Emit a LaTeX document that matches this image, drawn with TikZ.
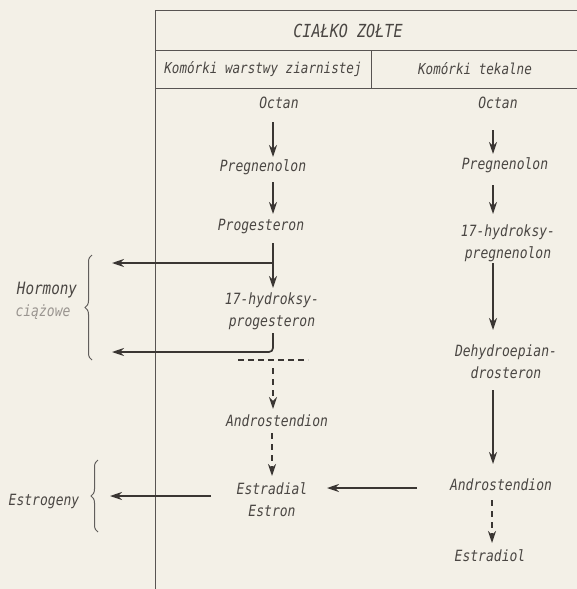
\documentclass[tikz,border=0pt]{standalone}
\usepackage{fontspec}
\setmainfont{DejaVu Sans Mono}[FakeStretch=0.84]
\usetikzlibrary{arrows.meta,decorations.pathreplacing}
\definecolor{paper}{HTML}{F3F0E7}
\definecolor{ink}{HTML}{3A3633}
\definecolor{txt}{HTML}{4A4643}
\definecolor{faint}{HTML}{9A9590}
\tikzset{
  lbl/.style={text=txt,font=\fontsize{15.5}{22}\selectfont\itshape,align=center,inner sep=0pt},
  hdr/.style={text=txt,font=\fontsize{15}{18}\selectfont\itshape,inner sep=0pt},
  rule/.style={draw=ink!85,line width=0.9pt},
  arr/.style={draw=ink,line width=1.7pt,-{Stealth[length=12pt,width=8pt]}},
  darr/.style={arr,dash pattern=on 6pt off 5pt},
  brc/.style={draw=ink!80,line width=1pt,decorate,decoration={brace,amplitude=7pt}}
}
\begin{document}
\begin{tikzpicture}[x=1pt,y=-1pt]
\fill[paper] (0,0) rectangle (577,589);
\useasboundingbox (0,0) rectangle (577,589);
% table
\coordinate (tl) at (155,10);
\coordinate (tr) at (577,10);
\coordinate (bl) at (155,589);
\coordinate (h1l) at (155,50);
\coordinate (h1r) at (577,50);
\coordinate (h2l) at (155,88);
\coordinate (h2r) at (577,88);
\coordinate (dv1) at (371,50);
\coordinate (dv2) at (371,88);
\draw[rule] (tl) -- (tr);
\draw[rule] (tl) -- (bl);
\draw[rule] (h1l) -- (h1r);
\draw[rule] (h2l) -- (h2r);
\draw[rule] (dv1) -- (dv2);
\node[hdr,font=\fontsize{18}{18}\selectfont\itshape] (title) at (348,31) {CIAŁKO ZOŁTE};
\node[hdr] (kz) at (263,69) {Komórki warstwy ziarnistej};
\node[hdr] (kt) at (475,69) {Komórki tekalne};
% left column
\node[lbl] (oct1) at (279,103) {Octan};
\node[lbl] (preg1) at (263,167) {Pregnenolon};
\node[lbl] (prog1) at (261,227) {Progesteron};
\node[lbl] (hp1) at (272,311) {17-hydroksy-\\progesteron};
\node[lbl] (andr1) at (277,421) {Androstendion};
\node[lbl] (estr1) at (272,500) {Estradial\\Estron};
% right column
\node[lbl] (oct2) at (498,103) {Octan};
\node[lbl] (preg2) at (505,165) {Pregnenolon};
\node[lbl] (hp2) at (508,243) {17-hydroksy-\\pregnenolon};
\node[lbl] (dhea) at (506,362) {Dehydroepian-\\drosteron};
\node[lbl] (andr2) at (501,485) {Androstendion};
\node[lbl] (estd) at (490,556) {Estradiol};
% side labels
\node[lbl,font=\fontsize{17}{22}\selectfont\itshape] (horm) at (47,290) {Hormony};
\node[lbl,text=faint] (ciaz) at (43,312) {ciążowe};
\node[lbl] (estg) at (44,502) {Estrogeny};
% braces
\coordinate (b1a) at (92,360);
\coordinate (b1b) at (92,255);
\coordinate (b2a) at (98,532);
\coordinate (b2b) at (98,460);
\draw[brc] (b1a) -- (b1b);
\draw[brc] (b2a) -- (b2b);
% left column arrows
\coordinate (a1s) at (273,122);
\coordinate (a1e) at (273,157);
\coordinate (a2s) at (273,182);
\coordinate (a2e) at (273,214);
\coordinate (a3s) at (273,243);
\coordinate (a3e) at (273,288);
\coordinate (hz1) at (273,263);
\coordinate (hz1e) at (112,263);
\coordinate (hk1) at (273,333);
\coordinate (hk2) at (273,352);
\coordinate (hk2e) at (112,352);
\coordinate (ds1) at (238,360);
\coordinate (ds2) at (308,360);
\coordinate (a4s) at (273,368);
\coordinate (a4e) at (273,409);
\coordinate (a5s) at (272,433);
\coordinate (a5e) at (272,476);
\coordinate (e1s) at (211,496);
\coordinate (e1e) at (110,496);
\draw[arr] (a1s) -- (a1e);
\draw[arr] (a2s) -- (a2e);
\draw[arr] (a3s) -- (a3e);
\draw[arr] (hz1) -- (hz1e);
\draw[arr,rounded corners=4pt] (hk1) -- (hk2) -- (hk2e);
\draw[draw=ink,line width=1.1pt,dash pattern=on 6pt off 4pt] (ds1) -- (ds2);
\draw[darr] (a4s) -- (a4e);
\draw[darr] (a5s) -- (a5e);
\draw[arr] (e1s) -- (e1e);
% right column arrows
\coordinate (r1s) at (493,130);
\coordinate (r1e) at (493,154);
\coordinate (r2s) at (493,185);
\coordinate (r2e) at (493,214);
\coordinate (r3s) at (493,263);
\coordinate (r3e) at (493,330);
\coordinate (r4s) at (493,390);
\coordinate (r4e) at (493,464);
\coordinate (r5s) at (492,500);
\coordinate (r5e) at (492,543);
\coordinate (hs) at (417,488);
\coordinate (he) at (327,488);
\draw[arr] (r1s) -- (r1e);
\draw[arr] (r2s) -- (r2e);
\draw[arr] (r3s) -- (r3e);
\draw[arr] (r4s) -- (r4e);
\draw[darr] (r5s) -- (r5e);
\draw[arr] (hs) -- (he);
\end{tikzpicture}
\end{document}
